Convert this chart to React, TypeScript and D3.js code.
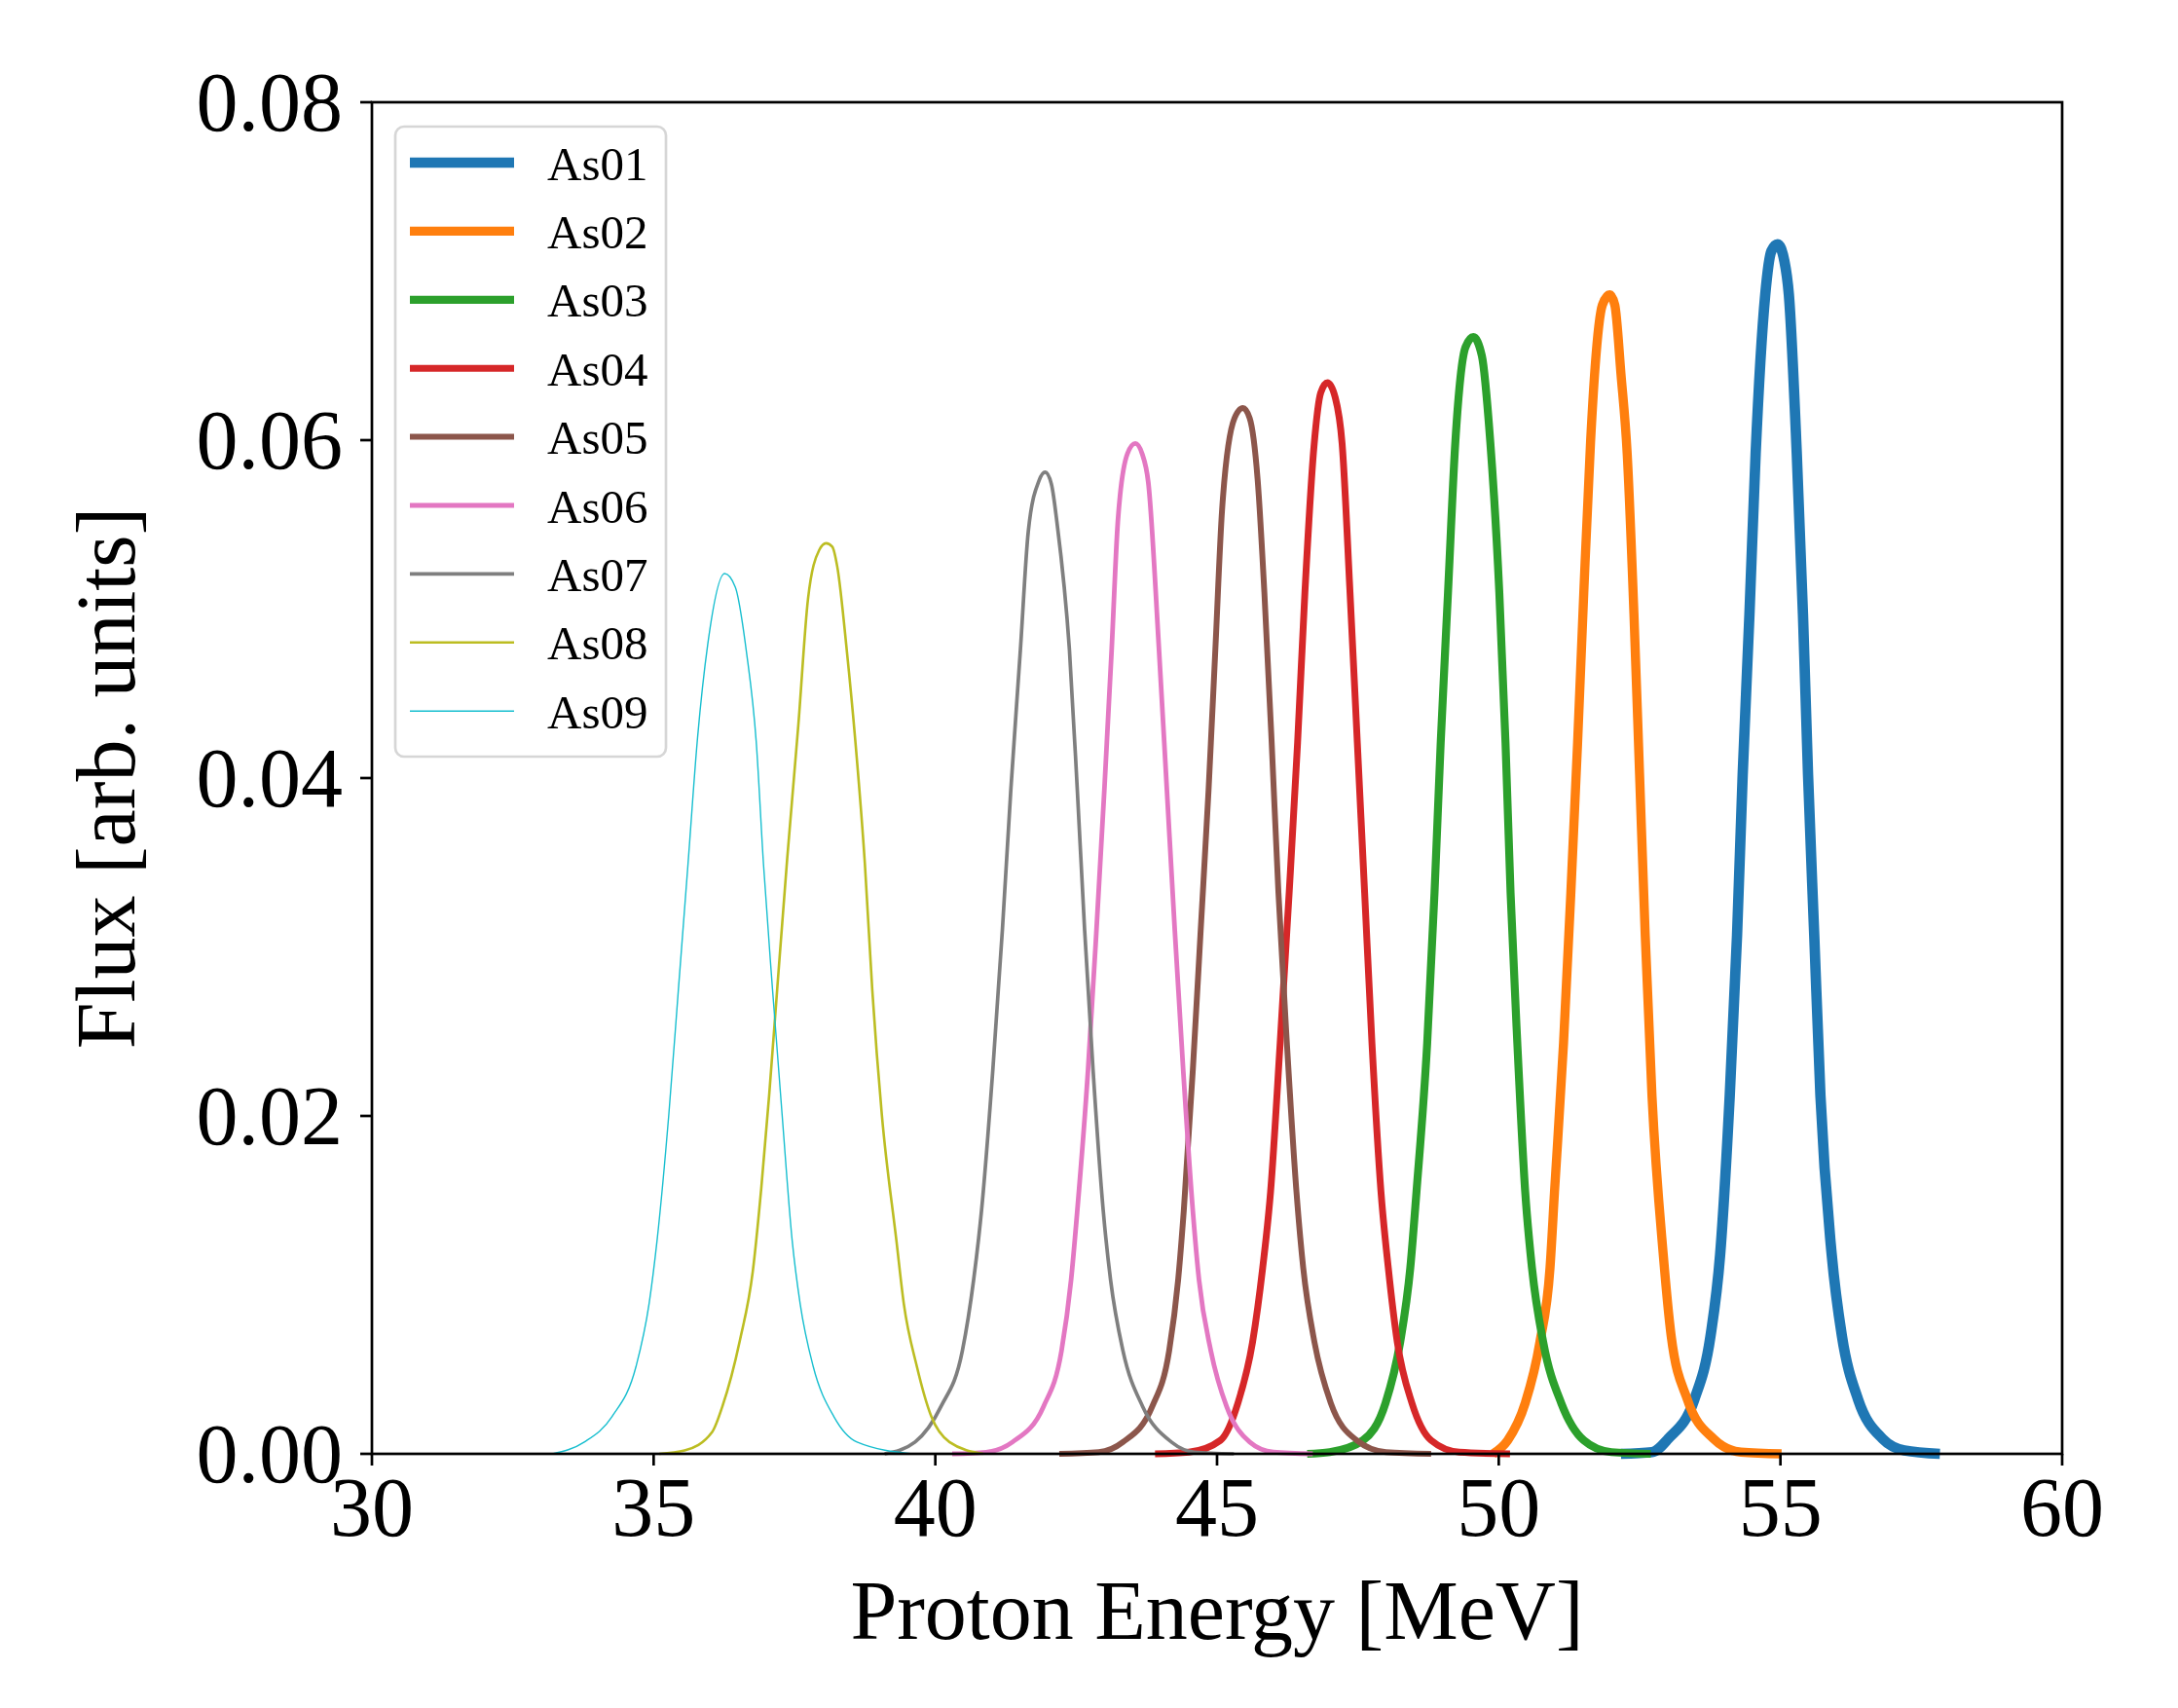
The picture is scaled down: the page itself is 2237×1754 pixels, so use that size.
// App.tsx
// Proton energy spectra (As01–As09) drawn as D3 line paths.
import React from 'react';
import * as d3 from 'd3';

// ---- data ----
const as01E = [52.17, 52.72, 53.01, 53.47, 53.76, 53.93, 54.1, 54.23, 54.33, 54.45, 54.56, 54.73, 54.84, 54.95, 55.07, 55.15, 55.29, 55.4, 55.49, 55.6, 55.71, 55.91, 56.09, 56.38, 56.81, 57.2, 57.83];
const as01F = [0, 0.0001, 0.0009, 0.0032, 0.007, 0.0118, 0.0212, 0.0307, 0.0402, 0.0497, 0.0592, 0.0686, 0.0712, 0.0716, 0.0706, 0.0686, 0.0592, 0.0497, 0.0402, 0.0307, 0.0212, 0.0118, 0.007, 0.0032, 0.0009, 0.0002, 0];

const as02E = [49.9, 50.16, 50.47, 50.73, 50.91, 50.99, 51.15, 51.28, 51.4, 51.51, 51.63, 51.71, 51.84, 51.97, 52.06, 52.17, 52.28, 52.4, 52.5, 52.6, 52.72, 52.92, 53.06, 53.35, 53.81, 54.3, 55.02];
const as02F = [0, 0.0008, 0.003, 0.0066, 0.011, 0.0155, 0.0243, 0.0332, 0.0421, 0.051, 0.0599, 0.0643, 0.068, 0.0686, 0.068, 0.0639, 0.0592, 0.0497, 0.0402, 0.0307, 0.0212, 0.0118, 0.007, 0.0032, 0.0009, 0.0001, 0];

const as03E = [46.6, 47.0, 47.59, 47.99, 48.25, 48.43, 48.54, 48.73, 48.86, 48.97, 49.1, 49.23, 49.41, 49.55, 49.7, 49.85, 50.01, 50.12, 50.21, 50.33, 50.47, 50.59, 50.79, 51.11, 51.51, 52.0, 52.7];
const as03F = [0, 0.0001, 0.0008, 0.003, 0.0066, 0.011, 0.0155, 0.0243, 0.0332, 0.0421, 0.051, 0.0599, 0.0655, 0.0661, 0.065, 0.0599, 0.051, 0.0421, 0.0332, 0.0243, 0.0155, 0.011, 0.0066, 0.003, 0.0008, 0.0001, 0];

const as04E = [43.9, 44.5, 45.06, 45.37, 45.63, 45.81, 45.95, 46.12, 46.28, 46.43, 46.56, 46.72, 46.84, 46.96, 47.1, 47.22, 47.36, 47.49, 47.62, 47.75, 47.91, 48.04, 48.2, 48.46, 48.8, 49.3, 50.2];
const as04F = [0, 0.0001, 0.0008, 0.003, 0.0066, 0.011, 0.0155, 0.0243, 0.0332, 0.0421, 0.051, 0.0596, 0.0628, 0.0634, 0.0625, 0.0598, 0.051, 0.0421, 0.0332, 0.0243, 0.0155, 0.011, 0.0066, 0.003, 0.0008, 0.0001, 0];

const as05E = [42.2, 42.9, 43.33, 43.85, 44.15, 44.31, 44.41, 44.57, 44.71, 44.85, 44.97, 45.09, 45.31, 45.46, 45.58, 45.72, 45.84, 45.97, 46.09, 46.24, 46.41, 46.53, 46.73, 47.02, 47.48, 48.0, 48.8];
const as05F = [0, 0.0001, 0.0007, 0.0028, 0.0061, 0.0103, 0.0144, 0.0227, 0.031, 0.0393, 0.0476, 0.0559, 0.0613, 0.0619, 0.0613, 0.0577, 0.051, 0.0421, 0.0332, 0.0243, 0.0155, 0.011, 0.0066, 0.003, 0.0008, 0.0001, 0];

const as06E = [40.3, 40.9, 41.37, 41.92, 42.24, 42.41, 42.52, 42.71, 42.86, 43.0, 43.13, 43.24, 43.41, 43.55, 43.67, 43.78, 43.97, 44.11, 44.25, 44.4, 44.57, 44.68, 44.89, 45.17, 45.58, 46.0, 46.7];
const as06F = [0, 0.0001, 0.0007, 0.0028, 0.0061, 0.0103, 0.0144, 0.0227, 0.031, 0.0393, 0.0476, 0.0552, 0.0592, 0.0598, 0.0592, 0.0575, 0.0476, 0.0393, 0.031, 0.0227, 0.0144, 0.0103, 0.0061, 0.0028, 0.0007, 0.0001, 0];

const as07E = [39.1, 39.64, 40.1, 40.48, 40.68, 40.82, 41.02, 41.19, 41.34, 41.51, 41.65, 41.84, 41.95, 42.06, 42.16, 42.38, 42.52, 42.65, 42.8, 42.98, 43.11, 43.33, 43.68, 44.19, 44.6, 45.3];
const as07F = [0, 0.0007, 0.0028, 0.0061, 0.0103, 0.0144, 0.0227, 0.031, 0.0393, 0.0476, 0.0546, 0.0576, 0.0581, 0.0574, 0.0551, 0.0476, 0.0393, 0.031, 0.0227, 0.0144, 0.0103, 0.0061, 0.0028, 0.0007, 0.0001, 0];

const as08E = [35.1, 35.55, 36.04, 36.22, 36.53, 36.76, 36.91, 37.05, 37.2, 37.37, 37.57, 37.74, 37.94, 38.06, 38.17, 38.26, 38.43, 38.58, 38.75, 38.88, 39.05, 39.31, 39.44, 39.67, 39.93, 40.25, 40.85];
const as08F = [0, 0.0002, 0.0013, 0.0028, 0.0067, 0.0108, 0.0157, 0.0212, 0.0278, 0.0352, 0.0432, 0.0506, 0.0535, 0.0539, 0.0537, 0.0525, 0.0475, 0.0422, 0.0349, 0.0275, 0.0201, 0.0126, 0.0089, 0.0052, 0.0022, 0.0007, 0];

const as09E = [33.2, 33.77, 34.26, 34.69, 34.92, 35.06, 35.27, 35.44, 35.61, 35.78, 35.96, 36.26, 36.45, 36.65, 36.82, 36.95, 37.11, 37.28, 37.46, 37.6, 37.83, 38.2, 38.61, 39.6];
const as09F = [0, 0.0007, 0.0022, 0.0052, 0.0089, 0.0126, 0.0201, 0.0275, 0.0349, 0.0424, 0.0479, 0.0521, 0.0513, 0.0474, 0.0422, 0.0349, 0.0275, 0.0201, 0.0126, 0.0089, 0.0052, 0.0022, 0.0007, 0];

const seriesNames = ['As01', 'As02', 'As03', 'As04', 'As05', 'As06', 'As07', 'As08', 'As09'];
const seriesEnergy = [as01E, as02E, as03E, as04E, as05E, as06E, as07E, as08E, as09E];
const seriesFlux = [as01F, as02F, as03F, as04F, as05F, as06F, as07F, as08F, as09F];
const seriesColors = ['#1f77b4', '#ff7f0e', '#2ca02c', '#d62728', '#8c564b', '#e377c2', '#7f7f7f', '#bcbd22', '#17becf'];
const seriesWidths = [10.7, 9.4, 8.2, 7.0, 6.0, 4.8, 3.7, 2.6, 1.4];

const xTicks = [30, 35, 40, 45, 50, 55, 60];
const yTicks = [0, 0.02, 0.04, 0.06, 0.08];

// ---- layout ----
const W = 2237;
const H = 1754;
const plot = { left: 382, right: 2118, top: 105, bottom: 1493 };
const FONT = '"Liberation Serif", "DejaVu Serif", serif';

export default function App() {
  const x = d3.scaleLinear().domain([30, 60]).range([plot.left, plot.right]);
  const y = d3.scaleLinear().domain([0, 0.08]).range([plot.bottom, plot.top]);

  // monotone curve keeps the tails from dipping below zero between read points
  const lineGen = d3
    .line<[number, number]>()
    .x((d) => x(d[0]))
    .y((d) => y(d[1]))
    .curve(d3.curveMonotoneX);

  const paths = seriesEnergy.map((es, i) =>
    lineGen(es.map((e, j) => [e, seriesFlux[i][j]] as [number, number])),
  );

  const legendX = 406;
  const legendY = 130;
  const rowGap = 70.4;

  return (
    <div style={{ position: 'absolute', left: 0, top: 0 }}>
      <svg width={W} height={H} style={{ display: 'block', background: '#fff' }}>
        <rect width={W} height={H} fill="#fff" />

        {paths.map((p, i) => (
          <path
            key={seriesNames[i]}
            d={p || ''}
            fill="none"
            stroke={seriesColors[i]}
            strokeWidth={seriesWidths[i]}
            strokeLinejoin="round"
          />
        ))}

        {/* spines */}
        <rect
          x={plot.left}
          y={plot.top}
          width={plot.right - plot.left}
          height={plot.bottom - plot.top}
          fill="none"
          stroke="#000"
          strokeWidth={2.7}
        />

        {/* x ticks */}
        {xTicks.map((t) => (
          <g key={'x' + t}>
            <line x1={x(t)} x2={x(t)} y1={plot.bottom} y2={plot.bottom + 12} stroke="#000" strokeWidth={2.7} />
            <text x={x(t)} y={1577} textAnchor="middle" fontFamily={FONT} fontSize={86}>
              {t}
            </text>
          </g>
        ))}

        {/* y ticks */}
        {yTicks.map((t) => (
          <g key={'y' + t}>
            <line x1={plot.left - 12} x2={plot.left} y1={y(t)} y2={y(t)} stroke="#000" strokeWidth={2.7} />
            <text x={352} y={y(t) + 29} textAnchor="end" fontFamily={FONT} fontSize={86}>
              {t.toFixed(2)}
            </text>
          </g>
        ))}

        {/* axis labels */}
        <text x={(plot.left + plot.right) / 2} y={1683} textAnchor="middle" fontFamily={FONT} fontSize={86}>
          Proton Energy [MeV]
        </text>
        <text
          transform={`translate(138, ${(plot.top + plot.bottom) / 2}) rotate(-90)`}
          textAnchor="middle"
          fontFamily={FONT}
          fontSize={86}
        >
          Flux [arb. units]
        </text>

        {/* legend */}
        <rect
          x={legendX}
          y={legendY}
          width={684 - legendX}
          height={777 - legendY}
          rx={9}
          fill="#fff"
          fillOpacity={0.8}
          stroke="#d6d6d6"
          strokeWidth={2.7}
        />
        {seriesNames.map((name, i) => {
          const cy = 167 + i * rowGap;
          return (
            <g key={'lg' + name}>
              <line
                x1={421 + seriesWidths[i] / 2}
                x2={528 - seriesWidths[i] / 2}
                y1={cy}
                y2={cy}
                stroke={seriesColors[i]}
                strokeWidth={seriesWidths[i]}
                strokeLinecap="square"
              />
              <text x={562} y={cy + 17.5} fontFamily={FONT} fontSize={49}>
                {name}
              </text>
            </g>
          );
        })}
      </svg>
    </div>
  );
}
